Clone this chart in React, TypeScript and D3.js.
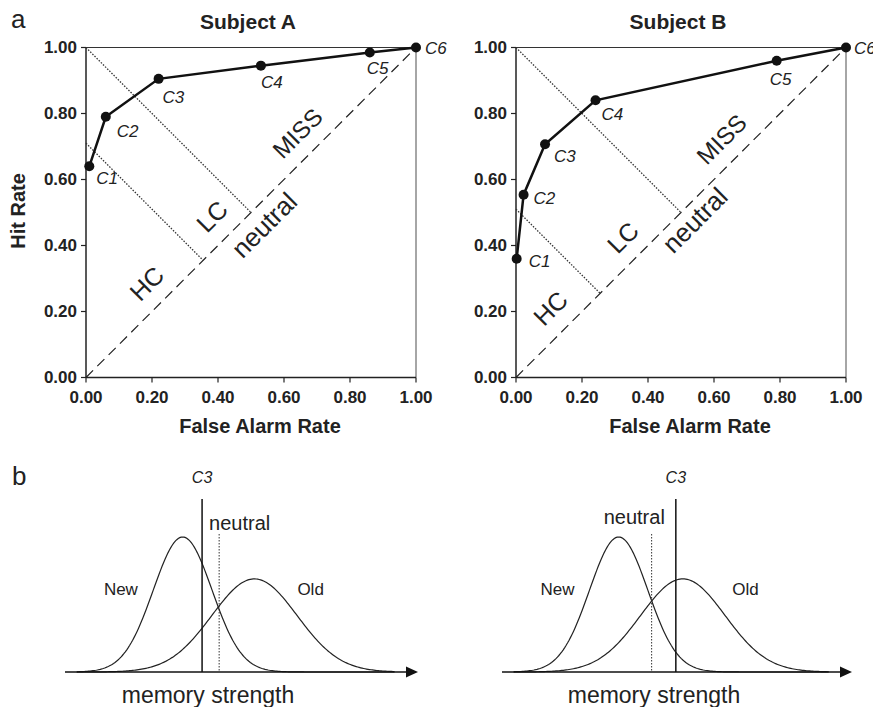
import React from 'react';
import * as d3 from 'd3';

// ROC data (false alarm rate / hit rate) for each confidence criterion
const criteria = ['C1', 'C2', 'C3', 'C4', 'C5', 'C6'];
const rateTicks = [0, 0.2, 0.4, 0.6, 0.8, 1.0];

const falseAlarmA = [0.01, 0.06, 0.22, 0.53, 0.86, 1.0];
const hitA = [0.64, 0.79, 0.905, 0.945, 0.985, 1.0];
const falseAlarmB = [0.002, 0.023, 0.088, 0.241, 0.79, 1.0];
const hitB = [0.36, 0.554, 0.707, 0.84, 0.96, 1.0];

// dotted boundaries: x + y = c
const boundariesA = [1.0, 0.71];
const boundariesB = [1.0, 0.51];

// panel b: new ~ N(0, 1), old ~ N(mean, sd), one entry per subject
const oldMean = [2.44, 2.2];
const oldSd = [1.45, 1.45];
const c3Criterion = [0.66, 1.96];
const neutralCriterion = [1.24, 1.13];

const FONT = 'Arial, "Liberation Sans", Helvetica, sans-serif';
const SIZE = 330;
const TOP = 47.5;

// label placement (px offsets from the point)
const offsetsA = [[7, 18], [11, 20], [4, 24], [0, 22], [-3, 22], [9, 6]];
const offsetsB = [[12, 8], [10, 9], [9, 18], [6, 20], [-7, 24], [8, 6]];

// region label centres in rate units
const regionsA = [
  { t: 'MISS', p: [0.641, 0.74], s: 24 },
  { t: 'LC', p: [0.382, 0.488], s: 25 },
  { t: 'neutral', p: [0.54, 0.462], s: 26 },
  { t: 'HC', p: [0.184, 0.285], s: 25 },
];
const regionsB = [
  { t: 'MISS', p: [0.623, 0.722], s: 24 },
  { t: 'LC', p: [0.324, 0.424], s: 25 },
  { t: 'neutral', p: [0.542, 0.477], s: 26 },
  { t: 'HC', p: [0.105, 0.21], s: 25 },
];

function Roc({ left, title, far, hit, bounds, offsets, regions }) {
  const x = d3.scaleLinear().domain([0, 1]).range([0, SIZE]);
  const y = d3.scaleLinear().domain([0, 1]).range([SIZE, 0]);
  const pts = far.map((f, i) => [f, hit[i]]);
  const line = d3.line().x(d => x(d[0])).y(d => y(d[1]));

  return (
    <g transform={`translate(${left},${TOP})`} fontFamily={FONT}>
      <text x={SIZE / 2 - 3} y={-19} textAnchor="middle" fontWeight="bold" fontSize={21} fill="#222">{title}</text>
      {/* frame */}
      <line x1={0} y1={y(1)} x2={x(1)} y2={y(1)} stroke="#333" strokeWidth={1.2} />
      <line x1={x(1)} y1={y(1)} x2={x(1)} y2={y(0)} stroke="#888" strokeWidth={1.5} />
      <line x1={0} y1={0} x2={0} y2={SIZE} stroke="#222" strokeWidth={1.5} />
      <line x1={0} y1={SIZE} x2={SIZE} y2={SIZE} stroke="#222" strokeWidth={1.5} />
      {rateTicks.map(t => (
        <g key={'y' + t}>
          <line x1={-5} x2={0} y1={y(t)} y2={y(t)} stroke="#222" strokeWidth={1.2} />
          <text x={-9} y={y(t)} dy="0.35em" textAnchor="end" fontWeight="bold" fontSize={17} fill="#222">{t.toFixed(2)}</text>
        </g>
      ))}
      {rateTicks.map(t => (
        <g key={'x' + t}>
          <line x1={x(t)} x2={x(t)} y1={SIZE} y2={SIZE + 5} stroke="#222" strokeWidth={1.2} />
          <text x={x(t)} y={SIZE + 25} textAnchor="middle" fontWeight="bold" fontSize={17} fill="#222">{t.toFixed(2)}</text>
        </g>
      ))}
      <text x={SIZE / 2 + 9} y={SIZE + 55} textAnchor="middle" fontWeight="bold" fontSize={20} fill="#222">False Alarm Rate</text>
      {/* chance diagonal */}
      <line x1={x(0)} y1={y(0)} x2={x(1)} y2={y(1)} stroke="#222" strokeWidth={1.2} strokeDasharray="10,6" />
      {/* dotted boundaries */}
      {bounds.map(c => (
        <line key={c} x1={x(0)} y1={y(c)} x2={x(c / 2)} y2={y(c / 2)} stroke="#333" strokeWidth={1.3} strokeDasharray="1.5,1.5" />
      ))}
      {regions.map(r => (
        <text key={r.t} transform={`translate(${x(r.p[0])},${y(r.p[1])}) rotate(-45)`} textAnchor="middle" dy="0.35em" fontSize={r.s} fill="#222">{r.t}</text>
      ))}
      <path d={line(pts)} fill="none" stroke="#111" strokeWidth={2.5} />
      {pts.map((p, i) => (
        <g key={i}>
          <circle cx={x(p[0])} cy={y(p[1])} r={5} fill="#111" />
          <text x={x(p[0]) + offsets[i][0]} y={y(p[1]) + offsets[i][1]} fontStyle="italic" fontSize={17} fill="#222">{criteria[i]}</text>
        </g>
      ))}
    </g>
  );
}

const pdf = (v, m, s) => Math.exp(-0.5 * ((v - m) / s) ** 2) / (s * Math.sqrt(2 * Math.PI));

function Dist({ i, x0, x1, labelCenter }) {
  const x = d3.scaleLinear().domain([-4, 8]).range([x0, x1]);
  const y = d3.scaleLinear().domain([0, pdf(0, 0, 1)]).range([672, 537]);
  const grid = d3.range(-3.6, 7.2001, 0.05);
  const line = d3.line().x(d => x(d[0])).y(d => y(d[1]));
  const newCurve = grid.map(v => [v, pdf(v, 0, 1)]);
  const oldCurve = grid.map(v => [v, pdf(v, oldMean[i], oldSd[i])]);
  const c3 = x(c3Criterion[i]);
  const nx = x(neutralCriterion[i]);
  const leftSide = neutralCriterion[i] > c3Criterion[i];

  return (
    <g fontFamily={FONT} fill="#222">
      <path d={line(newCurve)} fill="none" stroke="#222" strokeWidth={1.2} />
      <path d={line(oldCurve)} fill="none" stroke="#222" strokeWidth={1.2} />
      <line x1={x0} x2={x1 - 10} y1={672} y2={672} stroke="#111" strokeWidth={1.6} />
      <path d={`M${x1},672L${x1 - 12},666.5L${x1 - 12},677.5Z`} fill="#111" />
      <line x1={c3} x2={c3} y1={499} y2={672} stroke="#111" strokeWidth={1.5} />
      <line x1={nx} x2={nx} y1={534} y2={672} stroke="#333" strokeWidth={1} strokeDasharray="1.5,1.5" />
      <text x={c3} y={483} textAnchor="middle" fontStyle="italic" fontSize={16}>C3</text>
      <text x={leftSide ? c3 + 7 : c3 - 11} y={leftSide ? 530 : 524} textAnchor={leftSide ? 'start' : 'end'} fontSize={20}>neutral</text>
      <text x={x(-2.1)} y={595} textAnchor="middle" fontSize={17}>New</text>
      <text x={x(4.35)} y={595} textAnchor="middle" fontSize={17}>Old</text>
      <text x={labelCenter} y={703} textAnchor="middle" fontSize={23}>memory strength</text>
    </g>
  );
}

export default function App() {
  return (
    <svg width={873} height={707} style={{ position: 'absolute', left: 0, top: 0, background: '#fff' }}>
      <rect width={873} height={707} fill="#fff" />
      <text x={11} y={28} fontFamily={FONT} fontSize={26} fill="#222">a</text>
      <text x={12} y={485} fontFamily={FONT} fontSize={26} fill="#222">b</text>
      <text transform="translate(25,211) rotate(-90)" textAnchor="middle" fontFamily={FONT} fontWeight="bold" fontSize={20} fill="#222">Hit Rate</text>
      <Roc left={86} title="Subject A" far={falseAlarmA} hit={hitA} bounds={boundariesA} offsets={offsetsA} regions={regionsA} />
      <Roc left={516} title="Subject B" far={falseAlarmB} hit={hitB} bounds={boundariesB} offsets={offsetsB} regions={regionsB} />
      <Dist i={0} x0={65} x1={418} labelCenter={208} />
      <Dist i={1} x0={502} x1={852} labelCenter={654} />
    </svg>
  );
}
